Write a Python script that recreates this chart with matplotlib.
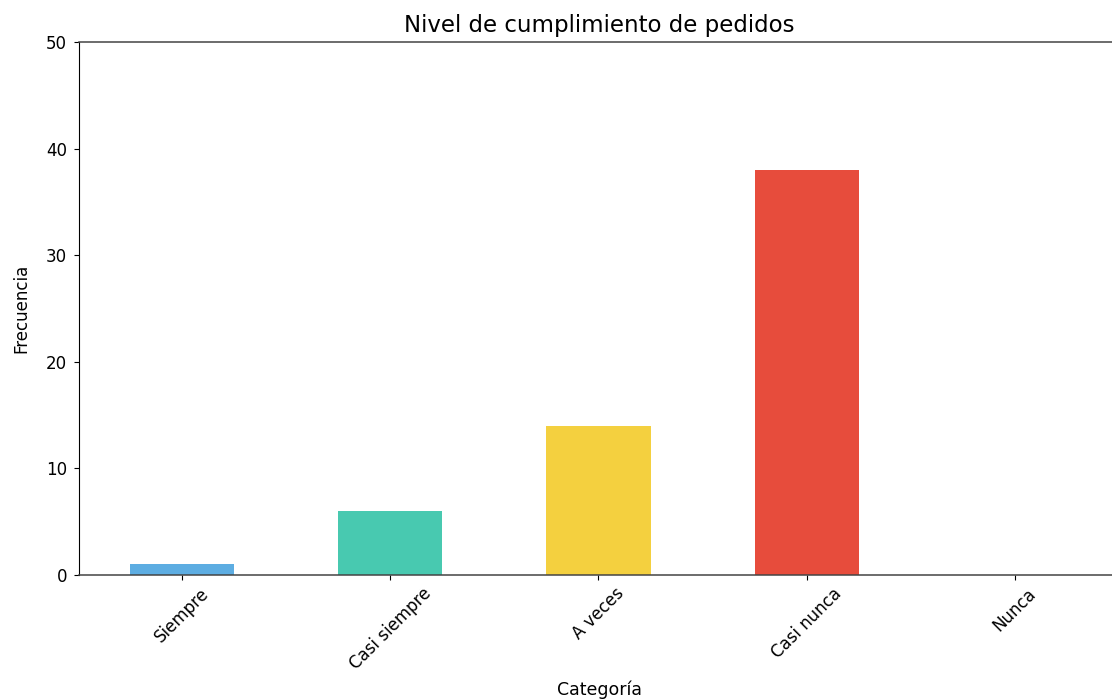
import matplotlib
matplotlib.use("Agg")
import matplotlib.pyplot as plt

categorias = ["Siempre", "Casi siempre", "A veces", "Casi nunca", "Nunca"]
frecuencias = [1, 6, 14, 38, 0]
colores = ["#5DADE2", "#48C9B0", "#F4D03F", "#E74C3C", "#8E44AD"]

fig = plt.figure(figsize=(11.12, 7.0), dpi=100)
# the axes runs past the right edge of the picture, as in the cropped original
ax = fig.add_axes([79 / 1112, 125 / 700, 1041 / 1112, 533 / 700])

ax.bar(range(len(categorias)), frecuencias, width=0.5, color=colores)
ax.set_xlim(-0.495, 4.505)
ax.set_ylim(0, 50)
ax.set_xticks(range(len(categorias)))
ax.set_xticklabels(categorias, rotation=45, fontsize=12)
ax.tick_params(axis="y", labelsize=12, pad=5)
ax.spines["right"].set_visible(False)
for lado in ("top", "bottom"):
    ax.spines[lado].set_color("#444444")
    ax.spines[lado].set_linewidth(1.1)

ax.set_title("Nivel de cumplimiento de pedidos", fontsize=16.5, pad=7)
ax.set_xlabel("Categoría", fontsize=12.5, labelpad=5)
ax.set_ylabel("Frecuencia", fontsize=12, labelpad=11)

fig.savefig("out.png", dpi=100)
